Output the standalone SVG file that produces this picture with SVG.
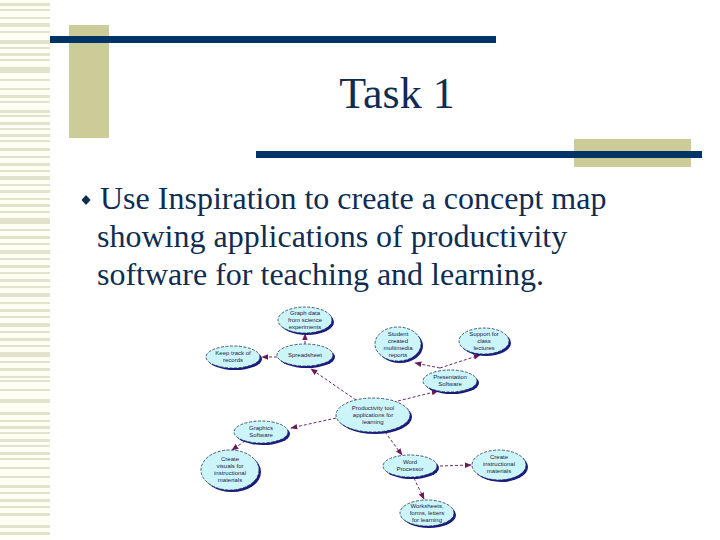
<svg xmlns="http://www.w3.org/2000/svg" width="720" height="540" viewBox="0 0 720 540">
<style>
.stripe{fill:#e3e2cc}
.navy{fill:#003366}
.beige{fill:#cccc99}
.title{font-family:"Liberation Serif","Times New Roman","DejaVu Serif",serif;font-size:44px;fill:#0f2d52}
.body{font-family:"Liberation Serif","Times New Roman","DejaVu Serif",serif;font-size:32px;fill:#0f2d52}
.shadow{fill:#1a1a80}
.node{fill:#ccf5fa;stroke:#223355;stroke-width:0.8;stroke-dasharray:3 1.5}
.nt{font-family:"Liberation Sans",Arial,sans-serif;font-size:6px;fill:#222244;text-anchor:middle}
.conn{stroke:#6a2a6a;stroke-width:1;fill:none;stroke-dasharray:3 2}
</style>
<defs>
<marker id="arr" viewBox="0 0 10 10" refX="9" refY="5" markerWidth="7" markerHeight="7" orient="auto">
<path d="M0,1 L10,5 L0,9 Z" fill="#6a1a5a"/>
</marker>
</defs>
<rect width="720" height="540" fill="#ffffff"/>
<g id="left-stripes">
<rect x="0" y="0" width="50" height="540" fill="#fffff6"/>
<rect class="stripe" x="0" y="3" width="50" height="3"/>
<rect class="stripe" x="0" y="9" width="50" height="2"/>
<rect class="stripe" x="0" y="17" width="50" height="2"/>
<rect class="stripe" x="0" y="23" width="50" height="4"/>
<rect class="stripe" x="0" y="31" width="50" height="2"/>
<rect class="stripe" x="0" y="40" width="50" height="4"/>
<rect class="stripe" x="0" y="47" width="50" height="2"/>
<rect class="stripe" x="0" y="53" width="50" height="3"/>
<rect class="stripe" x="0" y="59" width="50" height="2"/>
<rect class="stripe" x="0" y="67" width="50" height="6"/>
<rect class="stripe" x="0" y="79" width="50" height="2"/>
<rect class="stripe" x="0" y="88" width="50" height="2"/>
<rect class="stripe" x="0" y="95" width="50" height="3"/>
<rect class="stripe" x="0" y="101" width="50" height="2"/>
<rect class="stripe" x="0" y="110" width="50" height="3"/>
<rect class="stripe" x="0" y="115" width="50" height="2"/>
<rect class="stripe" x="0" y="122" width="50" height="3"/>
<rect class="stripe" x="0" y="128" width="50" height="2"/>
<rect class="stripe" x="0" y="134" width="50" height="3"/>
<rect class="stripe" x="0" y="140" width="50" height="2"/>
<rect class="stripe" x="0" y="148" width="50" height="3"/>
<rect class="stripe" x="0" y="156" width="50" height="2"/>
<rect class="stripe" x="0" y="163" width="50" height="3"/>
<rect class="stripe" x="0" y="170" width="50" height="2"/>
<rect class="stripe" x="0" y="176" width="50" height="4"/>
<rect class="stripe" x="0" y="184" width="50" height="2"/>
<rect class="stripe" x="0" y="190" width="50" height="3"/>
<rect class="stripe" x="0" y="198" width="50" height="2"/>
<rect class="stripe" x="0" y="204" width="50" height="3"/>
<rect class="stripe" x="0" y="211" width="50" height="2"/>
<rect class="stripe" x="0" y="218" width="50" height="6"/>
<rect class="stripe" x="0" y="229" width="50" height="2"/>
<rect class="stripe" x="0" y="236" width="50" height="3"/>
<rect class="stripe" x="0" y="243" width="50" height="2"/>
<rect class="stripe" x="0" y="250" width="50" height="4"/>
<rect class="stripe" x="0" y="258" width="50" height="2"/>
<rect class="stripe" x="0" y="265" width="50" height="3"/>
<rect class="stripe" x="0" y="272" width="50" height="2"/>
<rect class="stripe" x="0" y="279" width="50" height="3"/>
<rect class="stripe" x="0" y="286" width="50" height="2"/>
<rect class="stripe" x="0" y="293" width="50" height="4"/>
<rect class="stripe" x="0" y="302" width="50" height="2"/>
<rect class="stripe" x="0" y="309" width="50" height="3"/>
<rect class="stripe" x="0" y="316" width="50" height="2"/>
<rect class="stripe" x="0" y="323" width="50" height="4"/>
<rect class="stripe" x="0" y="331" width="50" height="2"/>
<rect class="stripe" x="0" y="338" width="50" height="3"/>
<rect class="stripe" x="0" y="345" width="50" height="2"/>
<rect class="stripe" x="0" y="352" width="50" height="5"/>
<rect class="stripe" x="0" y="361" width="50" height="2"/>
<rect class="stripe" x="0" y="368" width="50" height="3"/>
<rect class="stripe" x="0" y="376" width="50" height="2"/>
<rect class="stripe" x="0" y="380" width="50" height="2"/>
<rect class="stripe" x="0" y="389" width="50" height="2"/>
<rect class="stripe" x="0" y="399" width="50" height="4"/>
<rect class="stripe" x="0" y="412" width="50" height="3"/>
<rect class="stripe" x="0" y="420" width="50" height="2"/>
<rect class="stripe" x="0" y="426" width="50" height="3"/>
<rect class="stripe" x="0" y="432" width="50" height="2"/>
<rect class="stripe" x="0" y="439" width="50" height="3"/>
<rect class="stripe" x="0" y="445" width="50" height="2"/>
<rect class="stripe" x="0" y="452" width="50" height="3"/>
<rect class="stripe" x="0" y="458" width="50" height="2"/>
<rect class="stripe" x="0" y="467" width="50" height="2"/>
<rect class="stripe" x="0" y="476" width="50" height="2"/>
<rect class="stripe" x="0" y="485" width="50" height="3"/>
<rect class="stripe" x="0" y="492" width="50" height="2"/>
<rect class="stripe" x="0" y="499" width="50" height="3"/>
<rect class="stripe" x="0" y="506" width="50" height="2"/>
<rect class="stripe" x="0" y="513" width="50" height="3"/>
<rect class="stripe" x="0" y="525" width="50" height="3"/>
<rect class="stripe" x="0" y="532" width="50" height="3"/>
</g>
<g id="decor">
<rect class="beige" x="69" y="25" width="40" height="113"/>
<rect class="navy" x="50" y="36" width="446" height="7"/>
<rect class="beige" x="574" y="139" width="117" height="28"/>
<rect class="navy" x="256" y="151" width="446" height="7"/>
</g>
<g id="title">
<text class="title" x="397" y="108" text-anchor="middle">Task 1</text>
</g>
<g id="bullet">
<path d="M86,195 L90.5,200 L86,205 L81.5,200 Z" fill="#0f2d52"/>
<text class="body" x="100" y="209">Use Inspiration to create a concept map</text>
<text class="body" x="97" y="247">showing applications of productivity</text>
<text class="body" x="97" y="285">software for teaching and learning.</text>
</g>
<g id="connectors">
<line class="conn" x1="356" y1="400" x2="311" y2="369" marker-end="url(#arr)"/>
<line class="conn" x1="305" y1="344" x2="305" y2="334" marker-end="url(#arr)"/>
<line class="conn" x1="277" y1="357" x2="262" y2="357" marker-end="url(#arr)"/>
<line class="conn" x1="398" y1="401" x2="438" y2="391" marker-end="url(#arr)"/>
<line class="conn" x1="440" y1="368" x2="415" y2="363" marker-end="url(#arr)"/>
<line class="conn" x1="440" y1="368" x2="480" y2="355" marker-end="url(#arr)"/>
<line class="conn" x1="336" y1="418" x2="291" y2="428" marker-end="url(#arr)"/>
<line class="conn" x1="245" y1="441" x2="232" y2="450" marker-end="url(#arr)"/>
<line class="conn" x1="385" y1="432" x2="402" y2="455" marker-end="url(#arr)"/>
<line class="conn" x1="440" y1="466" x2="471" y2="465" marker-end="url(#arr)"/>
<line class="conn" x1="414" y1="478" x2="424" y2="499" marker-end="url(#arr)"/>
</g>
<g id="n-graph">
<ellipse class="shadow" cx="307" cy="322" rx="27" ry="13"/>
<ellipse class="node" cx="305" cy="320" rx="27" ry="13"/>
<text class="nt" x="305" y="315">Graph data</text>
<text class="nt" x="305" y="322">from science</text>
<text class="nt" x="305" y="329">experiments</text>
</g>
<g id="n-spreadsheet">
<ellipse class="shadow" cx="307" cy="357" rx="28" ry="11"/>
<ellipse class="node" cx="305" cy="355" rx="28" ry="11"/>
<text class="nt" x="305" y="357">Spreadsheet</text>
</g>
<g id="n-keep">
<ellipse class="shadow" cx="235" cy="359" rx="27" ry="11"/>
<ellipse class="node" cx="233" cy="357" rx="27" ry="11"/>
<text class="nt" x="233" y="355">Keep track of</text>
<text class="nt" x="233" y="362">records</text>
</g>
<g id="n-student">
<ellipse class="shadow" cx="400" cy="346" rx="23" ry="17"/>
<ellipse class="node" cx="398" cy="344" rx="23" ry="17"/>
<text class="nt" x="398" y="336">Student</text>
<text class="nt" x="398" y="343">created</text>
<text class="nt" x="398" y="350">multimedia</text>
<text class="nt" x="398" y="357">reports</text>
</g>
<g id="n-support">
<ellipse class="shadow" cx="486" cy="343" rx="25" ry="13"/>
<ellipse class="node" cx="484" cy="341" rx="25" ry="13"/>
<text class="nt" x="484" y="336">Support for</text>
<text class="nt" x="484" y="343">class</text>
<text class="nt" x="484" y="350">lectures</text>
</g>
<g id="n-presentation">
<ellipse class="shadow" cx="452" cy="383" rx="27" ry="11"/>
<ellipse class="node" cx="450" cy="381" rx="27" ry="11"/>
<text class="nt" x="450" y="379">Presentation</text>
<text class="nt" x="450" y="386">Software</text>
</g>
<g id="n-center">
<ellipse class="shadow" cx="375" cy="417" rx="37" ry="17"/>
<ellipse class="node" cx="373" cy="415" rx="37" ry="17"/>
<text class="nt" x="373" y="410">Productivity tool</text>
<text class="nt" x="373" y="417">applications for</text>
<text class="nt" x="373" y="424">learning</text>
</g>
<g id="n-graphics">
<ellipse class="shadow" cx="263" cy="434" rx="27" ry="11"/>
<ellipse class="node" cx="261" cy="432" rx="27" ry="11"/>
<text class="nt" x="261" y="430">Graphics</text>
<text class="nt" x="261" y="437">Software</text>
</g>
<g id="n-visuals">
<ellipse class="shadow" cx="232" cy="472" rx="29" ry="20"/>
<ellipse class="node" cx="230" cy="470" rx="29" ry="20"/>
<text class="nt" x="230" y="461">Create</text>
<text class="nt" x="230" y="468">visuals for</text>
<text class="nt" x="230" y="475">instructional</text>
<text class="nt" x="230" y="482">materials</text>
</g>
<g id="n-word">
<ellipse class="shadow" cx="412" cy="468" rx="27" ry="11"/>
<ellipse class="node" cx="410" cy="466" rx="27" ry="11"/>
<text class="nt" x="410" y="464">Word</text>
<text class="nt" x="410" y="471">Processor</text>
</g>
<g id="n-instructional">
<ellipse class="shadow" cx="501" cy="467" rx="27" ry="15"/>
<ellipse class="node" cx="499" cy="465" rx="27" ry="15"/>
<text class="nt" x="499" y="459">Create</text>
<text class="nt" x="499" y="466">instructional</text>
<text class="nt" x="499" y="473">materials</text>
</g>
<g id="n-worksheets">
<ellipse class="shadow" cx="429" cy="515" rx="27" ry="13"/>
<ellipse class="node" cx="427" cy="513" rx="27" ry="13"/>
<text class="nt" x="427" y="508">Worksheets,</text>
<text class="nt" x="427" y="515">forms, letters</text>
<text class="nt" x="427" y="522">for learning</text>
</g>
</svg>
